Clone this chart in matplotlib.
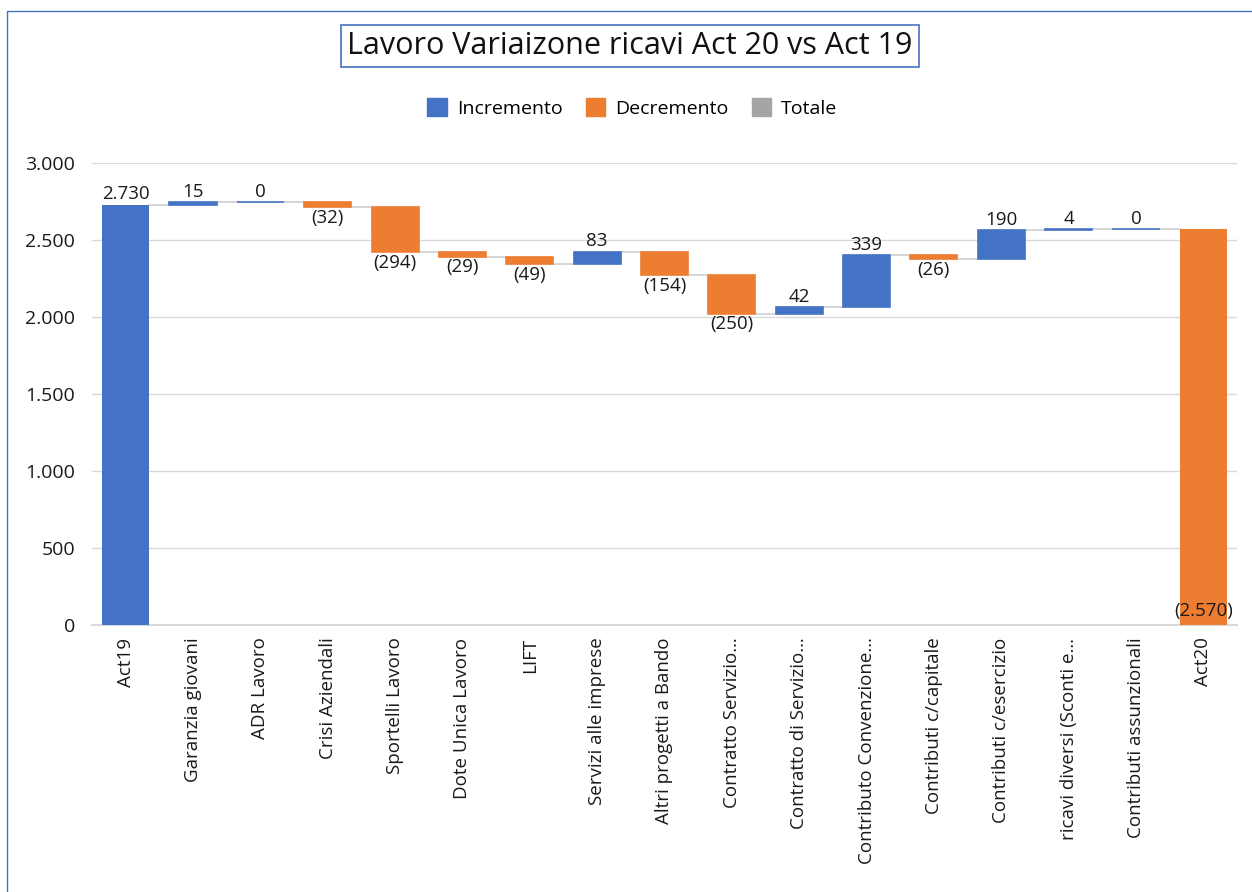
import matplotlib
matplotlib.use("Agg")
import matplotlib.pyplot as plt
from matplotlib.patches import Rectangle, Patch

plt.rcParams['font.family'] = ['Open Sans', 'DejaVu Sans']

categories = ["Act19", "Garanzia giovani", "ADR Lavoro", "Crisi Aziendali", "Sportelli Lavoro",
              "Dote Unica Lavoro", "LIFT", "Servizi alle imprese", "Altri progetti a Bando",
              "Contratto Servizio…", "Contratto di Servizio…", "Contributo Convenzione…",
              "Contributi c/capitale", "Contributi c/esercizio", "ricavi diversi (Sconti e…",
              "Contributi assunzionali", "Act20"]
start_total = 2730
deltas = [15, 0, -32, -294, -29, -49, 83, -154, -250, 42, 339, -26, 190, 4, 0]
end_total = 2570
yticks = [0, 500, 1000, 1500, 2000, 2500, 3000]
ytick_labels = ["0", "500", "1.000", "1.500", "2.000", "2.500", "3.000"]

BLUE = "#4472C4"
ORANGE = "#ED7D31"
GREY = "#A5A5A5"
TXT = "#1a1a1a"

def fmt(v):
    s = f"{abs(v):,}".replace(",", ".")
    return f"({s})" if v < 0 else s

fig = plt.figure(figsize=(12.52, 8.92), dpi=100)
ax = fig.add_axes([0.0735, 0.2993, 0.9145, 0.518])

bw = 0.7
LFS = 13.5
ax.bar(0, start_total, width=bw, color=BLUE, zorder=3)
ax.annotate(fmt(start_total), (0, start_total), xytext=(0, 1), textcoords="offset points",
            ha="center", va="bottom", fontsize=LFS, color=TXT)

running = start_total
levels = [start_total]
for i, d in enumerate(deltas, start=1):
    bottom = min(running, running + d)
    col = BLUE if d >= 0 else ORANGE
    ax.bar(i, abs(d), bottom=bottom, width=bw, color=col, edgecolor=col, linewidth=1.2, zorder=3)
    if d >= 0:
        ax.annotate(fmt(d), (i, bottom + abs(d)), xytext=(0, 1), textcoords="offset points",
                    ha="center", va="bottom", fontsize=LFS, color=TXT)
    else:
        ax.annotate(fmt(d), (i, bottom), xytext=(0, -1), textcoords="offset points",
                    ha="center", va="top", fontsize=LFS, color=TXT)
    running += d
    levels.append(running)

n = len(categories)
ax.bar(n - 1, end_total, width=bw, color=ORANGE, zorder=3)
ax.annotate(fmt(-end_total), (n - 1, 0), xytext=(0, 10), textcoords="offset points",
            ha="center", va="center", fontsize=LFS, color=TXT, zorder=5)

for i in range(n - 1):
    ax.plot([i + bw / 2, i + 1 - bw / 2], [levels[i], levels[i]], color="#CFCFCF",
            linewidth=1.2, zorder=2)

ax.set_xlim(-0.5, n - 0.5)
ax.set_ylim(0, 3000)
ax.set_yticks(yticks)
ax.set_yticklabels(ytick_labels, fontsize=14, color=TXT)
ax.set_xticks(range(n))
ax.set_xticklabels(categories, rotation=90, fontsize=13.5, color=TXT)
ax.tick_params(axis="both", length=0)
ax.tick_params(axis="y", pad=12)
ax.tick_params(axis="x", pad=9)
for s in ["top", "right", "left"]:
    ax.spines[s].set_visible(False)
ax.spines["bottom"].set_color("#D9D9D9")
ax.spines["bottom"].set_linewidth(1.5)
ax.grid(axis="y", color="#D9D9D9", linewidth=1.0, zorder=0)
ax.set_axisbelow(True)

fig.text(0.503, 1 - 46 / 892, "Lavoro Variaizone ricavi Act 20 vs Act 19", ha="center", va="center",
         fontsize=22, color="#111111",
         bbox=dict(boxstyle="square,pad=0.2", facecolor="white", edgecolor="#4472C4", linewidth=1.2))

handles = [Patch(color=BLUE, label="Incremento"), Patch(color=ORANGE, label="Decremento"),
           Patch(color=GREY, label="Totale")]
fig.legend(handles=handles, loc="center", bbox_to_anchor=(0.505, 1 - 108 / 892), ncol=3,
           frameon=False, fontsize=14, handlelength=1.0, handleheight=1.0, columnspacing=1.2,
           handletextpad=0.5)

fig.patches.append(Rectangle((7 / 1252, -0.01), 1.02, 1 - 11 / 892 + 0.01, transform=fig.transFigure,
                             fill=False, edgecolor="#4472C4", linewidth=1.0))

fig.savefig("out.png", dpi=100)
